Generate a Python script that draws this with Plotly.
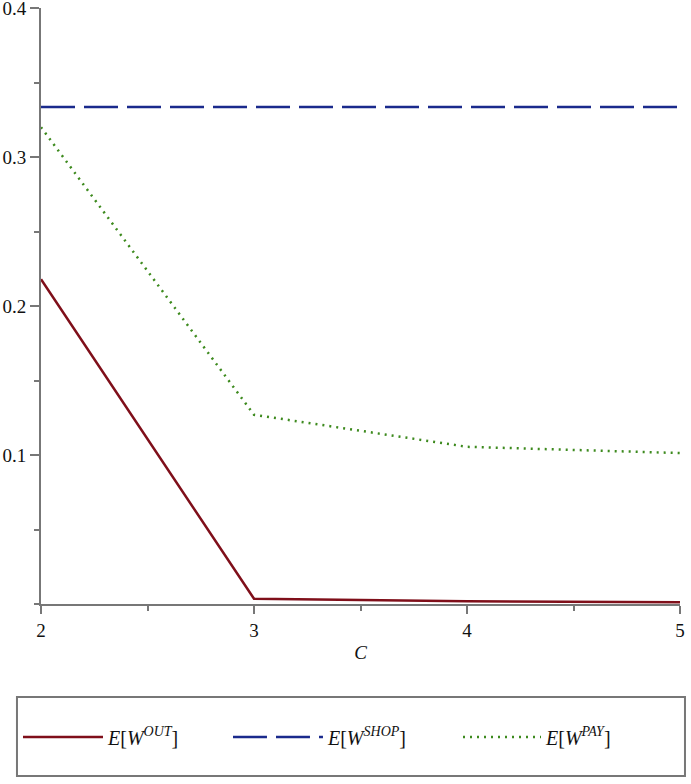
import plotly.graph_objects as go

c_values = [2, 3, 4, 5]
w_out = [0.218, 0.0035, 0.0018, 0.0012]
w_shop = [0.3335, 0.3335, 0.3335, 0.3335]
w_pay = [0.320, 0.127, 0.1055, 0.1013]
y_ticks = [0.1, 0.2, 0.3, 0.4]
y_ticktext = ["0.1", "0.2", "0.3", "0.4"]
x_ticks = [2, 3, 4, 5]
names = ["<i>E</i>[<i>W</i><sup><i>OUT</i></sup>]",
         "<i>E</i>[<i>W</i><sup><i>SHOP</i></sup>]",
         "<i>E</i>[<i>W</i><sup><i>PAY</i></sup>]"]

fig = go.Figure()
fig.add_trace(go.Scatter(x=c_values, y=w_out, mode="lines", name=names[0], legend="legend",
                         line=dict(color="#7f0f1a", width=2.5)))
fig.add_trace(go.Scatter(x=c_values, y=w_shop, mode="lines", name=names[1], legend="legend2",
                         line=dict(color="#1a2a8c", width=2.5, dash="34px,9px")))
fig.add_trace(go.Scatter(x=c_values, y=w_pay, mode="lines", name=names[2], legend="legend3",
                         line=dict(color="#3d8a1e", width=2.5, dash="2px,5px")))

axis_font = dict(family="Liberation Serif", size=19, color="#111")
leg_font = dict(family="Liberation Serif", size=20, color="#111")
leg_common = dict(y=-0.223, yanchor="middle", xanchor="left", bgcolor="rgba(0,0,0,0)",
                  font=leg_font, borderwidth=0)

fig.update_layout(
    width=691, height=784,
    margin=dict(l=41, r=11, t=8, b=180, autoexpand=False),
    paper_bgcolor="white", plot_bgcolor="white",
    font=dict(family="Liberation Serif", size=16, color="#111"),
    showlegend=True,
    legend=dict(x=-0.036, itemwidth=80, **leg_common),
    legend2=dict(x=0.2926, itemwidth=90, **leg_common),
    legend3=dict(x=0.6526, itemwidth=78, **leg_common),
    xaxis=dict(range=[2, 5], tickvals=x_ticks, ticks="outside", ticklen=8, automargin=False,
               tickcolor="#777", tickwidth=2, ticklabeloverflow="allow",
               showline=True, linecolor="#777", linewidth=2, showgrid=False, zeroline=False,
               tickfont=axis_font,
               title=dict(text="<i>C</i>", font=dict(family="Liberation Serif", size=19), standoff=6),
               minor=dict(dtick=0.5, ticks="outside", ticklen=5, tickcolor="#777", tickwidth=1.5, showgrid=False)),
    yaxis=dict(range=[0, 0.4], tickvals=y_ticks, ticktext=y_ticktext, ticks="outside", ticklen=9, automargin=False,
               tickcolor="#777", tickwidth=2, ticklabeloverflow="allow",
               showline=True, linecolor="#777", linewidth=2, showgrid=False, zeroline=False,
               tickfont=axis_font,
               minor=dict(dtick=0.05, ticks="outside", ticklen=5, tickcolor="#777", tickwidth=1.5, showgrid=False)),
    shapes=[dict(type="rect", xref="paper", yref="paper",
                 x0=-0.0376, x1=1.0078, y0=-0.2886, y1=-0.156,
                 line=dict(color="#777", width=2))],
)

fig.write_html("out.html", config={"displayModeBar": False},
               post_script="document.body.style.margin='0px';")
